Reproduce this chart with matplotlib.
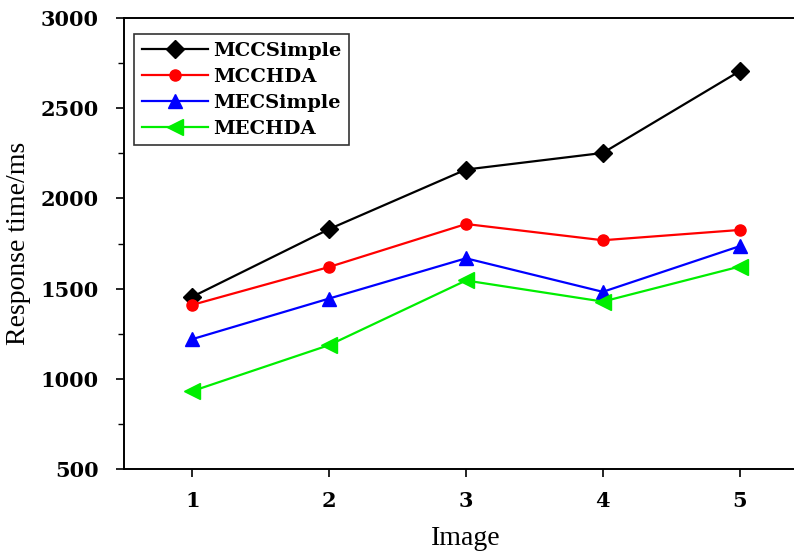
import matplotlib
matplotlib.use('Agg')
import matplotlib.pyplot as plt
from matplotlib.ticker import MultipleLocator

images = [1, 2, 3, 4, 5]
mcc_simple = [1455, 1830, 2160, 2252, 2705]
mcc_hda = [1410, 1620, 1858, 1768, 1825]
mec_simple = [1220, 1445, 1668, 1482, 1735]
mec_hda = [932, 1187, 1545, 1428, 1622]

series = [
    ('MCCSimple', mcc_simple, 'black', 'D', 9),
    ('MCCHDA', mcc_hda, 'red', 'o', 8),
    ('MECSimple', mec_simple, 'blue', '^', 10),
    ('MECHDA', mec_hda, '#00ee00', '<', 11),
]

plt.rcParams['font.family'] = ['Liberation Serif', 'DejaVu Serif']

fig = plt.figure(figsize=(7.94, 5.52), dpi=100)
W, H = 794, 552
# axes box in pixels: left 124, right beyond the image edge, top 18, bottom 469
ax = fig.add_axes([124 / W, (H - 469) / H, (808 - 124) / W, (469 - 18) / H])

for name, vals, col, mk, ms in series:
    ax.plot(images, vals, color=col, marker=mk, markersize=ms, linewidth=1.6,
            label=name, clip_on=False)

ax.set_xlim(0.5, 5.5)
ax.set_ylim(500, 3000)
ax.set_xticks(images)
ax.yaxis.set_major_locator(MultipleLocator(500))
ax.yaxis.set_minor_locator(MultipleLocator(250))
ax.tick_params(axis='both', which='major', direction='out', length=6, width=1.2)
ax.tick_params(axis='y', which='minor', direction='out', length=4, width=1.0)
for lab in ax.get_xticklabels() + ax.get_yticklabels():
    lab.set_fontweight('bold')
    lab.set_fontsize(15)
    lab.set_family(['DejaVu Serif'])
ax.tick_params(axis='x', pad=10)
ax.tick_params(axis='y', pad=12)
for sp in ax.spines.values():
    sp.set_linewidth(1.4)

ax.set_xlabel('Image', fontsize=20)
ax.xaxis.set_label_coords(0.5, -0.155)
ax.xaxis.label.set_va('center')
ax.set_ylabel('Response time/ms', fontsize=20)
ax.yaxis.set_label_coords(-0.136, 0.5)

leg = ax.legend(loc='upper left', bbox_to_anchor=(0.0, 0.985), frameon=True,
                fancybox=False, edgecolor='black', handlelength=3.4,
                prop={'family': 'DejaVu Serif', 'weight': 'bold', 'size': 14},
                labelspacing=0.4, borderpad=0.4, handletextpad=0.3)
leg.get_frame().set_linewidth(1.2)

fig.savefig('out.png', dpi=100)
